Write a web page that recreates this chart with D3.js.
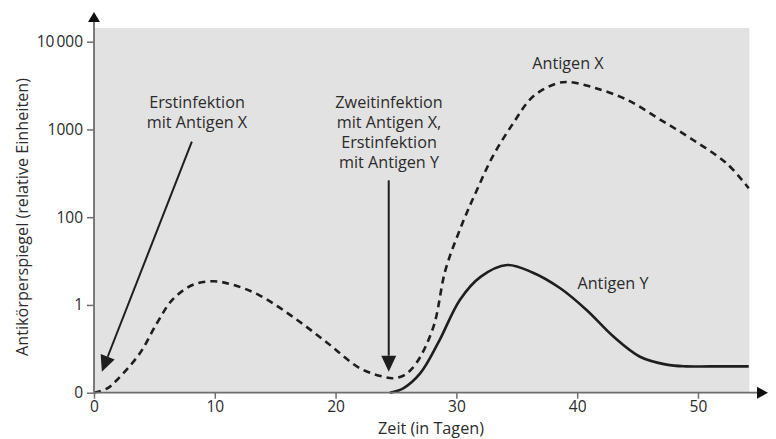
<!DOCTYPE html>
<html><head><meta charset="utf-8">
<script src="https://cdn.jsdelivr.net/npm/d3@7"></script>
<style>
html,body{margin:0;padding:0;background:#fff;}
svg{display:block;font-family:"Open Sans",sans-serif;}
</style></head>
<body><div id="chart"></div>
<script>
// ---- data ----
const yTickValues = [0, 1, 2, 3, 4];
const yTickLabels = ["0", "1", "100", "1000", "10\u202F000"];
const xTickValues = [0, 10, 20, 30, 40, 50];

const antigenXDays  = [0, 1.1, 1.9, 3.8, 5.2, 6.5, 8.2, 9.9, 11.5, 13.7, 16.5, 19.3, 22.0, 24.0, 24.8, 25.7, 26.7, 28.1, 29.1, 30.5, 31.7, 33.0, 34.7, 36.3, 38.2, 39.3, 41.3, 44.1, 46.9, 49.6, 52.4, 54.2];
const antigenXLevel = [0, 0.05, 0.145, 0.45, 0.79, 1.06, 1.23, 1.27, 1.23, 1.11, 0.86, 0.57, 0.28, 0.18, 0.165, 0.2, 0.34, 0.75, 1.4, 1.93, 2.31, 2.69, 3.07, 3.37, 3.52, 3.54, 3.48, 3.34, 3.11, 2.88, 2.61, 2.33];

const antigenYDays  = [24.5, 25.6, 27.0, 28.5, 30.3, 32.0, 34.2, 36.3, 38.6, 40.8, 43.0, 45.2, 47.4, 49.0, 51.0, 54.2];
const antigenYLevel = [0, 0.05, 0.22, 0.57, 1.06, 1.32, 1.455, 1.37, 1.19, 0.94, 0.64, 0.41, 0.32, 0.30, 0.30, 0.30];

const annotationLines = [
  ["Erstinfektion", "mit Antigen X"],
  ["Zweitinfektion", "mit Antigen X,", "Erstinfektion", "mit Antigen Y"]
];
// arrows: [fromDay, fromLevel, toDay, toLevel]
const annotationArrows = [
  [8.1, 2.86, 0.65, 0.24],
  [24.4, 2.42, 24.4, 0.24]
];
const seriesLabels = ["Antigen X", "Antigen Y"];

// ---- layout ----
const W = 776, H = 439;
const svg = d3.select("#chart").append("svg").attr("width", W).attr("height", H);

const x = d3.scaleLinear().domain([0, 54.25]).range([94, 749.3]);
const y = d3.scaleLinear().domain([0, 4]).range([392.7, 41.7]);

const axisCol = "#6e6e6e", textCol = "#2b2b2b", lineCol = "#1e1e1e";
const fs = "16.2px";

// background
svg.append("rect").attr("x", x(0)).attr("y", 28).attr("width", x(54.25) - x(0)).attr("height", y(0) - 28).attr("fill", "#e2e2e2");

// curves
const lineGen = d3.line().x(d => x(d[0])).y(d => y(d[1])).curve(d3.curveCatmullRom.alpha(0.5));
svg.append("path").datum(d3.zip(antigenXDays, antigenXLevel))
  .attr("d", lineGen).attr("fill", "none").attr("stroke", lineCol)
  .attr("stroke-width", 2.6).attr("stroke-dasharray", "7,5");
svg.append("path").datum(d3.zip(antigenYDays, antigenYLevel))
  .attr("d", lineGen).attr("fill", "none").attr("stroke", lineCol)
  .attr("stroke-width", 2.6);

// axes
const xAxis = d3.axisBottom(x).tickValues(xTickValues).tickSize(6).tickPadding(2.5).tickFormat(d3.format("d"));
const gx = svg.append("g").attr("transform", `translate(0,${y(0)})`).call(xAxis);
gx.select(".domain").remove();
const yAxis = d3.axisLeft(y).tickValues(yTickValues).tickSize(7).tickPadding(4).tickFormat((d, i) => yTickLabels[i]);
const gy = svg.append("g").attr("transform", `translate(${x(0)},0)`).call(yAxis);
gy.select(".domain").remove();
[gx, gy].forEach(g => {
  g.selectAll(".tick line").attr("stroke", axisCol).attr("stroke-width", 1.5);
  g.selectAll(".tick text").attr("fill", textCol).style("font-size", "15.5px").style("font-family", "'Open Sans',sans-serif");
});

// axis lines with arrows
svg.append("line").attr("x1", x(0)).attr("x2", 760).attr("y1", y(0)).attr("y2", y(0)).attr("stroke", axisCol).attr("stroke-width", 1.8);
svg.append("line").attr("x1", x(0)).attr("x2", x(0)).attr("y1", y(0)).attr("y2", 20).attr("stroke", axisCol).attr("stroke-width", 1.8);
svg.append("path").attr("d", `M768,${y(0)} L757,${y(0) - 6} L757,${y(0) + 6} Z`).attr("fill", "#111");
svg.append("path").attr("d", `M${x(0)},12 L${x(0) - 6},22 L${x(0) + 6},22 Z`).attr("fill", "#111");

// axis titles
svg.append("text").attr("x", 431).attr("y", 434).attr("text-anchor", "middle")
  .attr("fill", textCol).style("font-size", fs).text("Zeit (in Tagen)");
svg.append("text").attr("transform", "translate(28,217) rotate(-90)").attr("text-anchor", "middle")
  .attr("fill", textCol).style("font-size", fs).text("Antikörperspiegel (relative Einheiten)");

// annotations
function arrow(a) {
  const x1 = x(a[0]), y1 = y(a[1]), x2 = x(a[2]), y2 = y(a[3]);
  const ang = Math.atan2(y2 - y1, x2 - x1);
  const L = 16, hw = 7.5;
  const bx = x2 - L * Math.cos(ang), by = y2 - L * Math.sin(ang);
  svg.append("line").attr("x1", x1).attr("y1", y1).attr("x2", bx).attr("y2", by)
    .attr("stroke", lineCol).attr("stroke-width", 2);
  const px = -Math.sin(ang) * hw, py = Math.cos(ang) * hw;
  svg.append("path").attr("d", `M${x2},${y2} L${bx + px},${by + py} L${bx - px},${by - py} Z`).attr("fill", lineCol);
}
annotationArrows.forEach(arrow);

const labelPos = [[197, 108], [389, 108]];
annotationLines.forEach((lines, k) => {
  const t = svg.append("text").attr("text-anchor", "middle").attr("fill", textCol).style("font-size", fs);
  lines.forEach((s, i) => t.append("tspan").attr("x", labelPos[k][0]).attr("y", labelPos[k][1] + i * 20).text(s));
});
svg.append("text").attr("x", 568).attr("y", 69).attr("text-anchor", "middle").attr("fill", textCol).style("font-size", fs).text(seriesLabels[0]);
svg.append("text").attr("x", 613).attr("y", 289).attr("text-anchor", "middle").attr("fill", textCol).style("font-size", fs).text(seriesLabels[1]);
</script></body></html>
